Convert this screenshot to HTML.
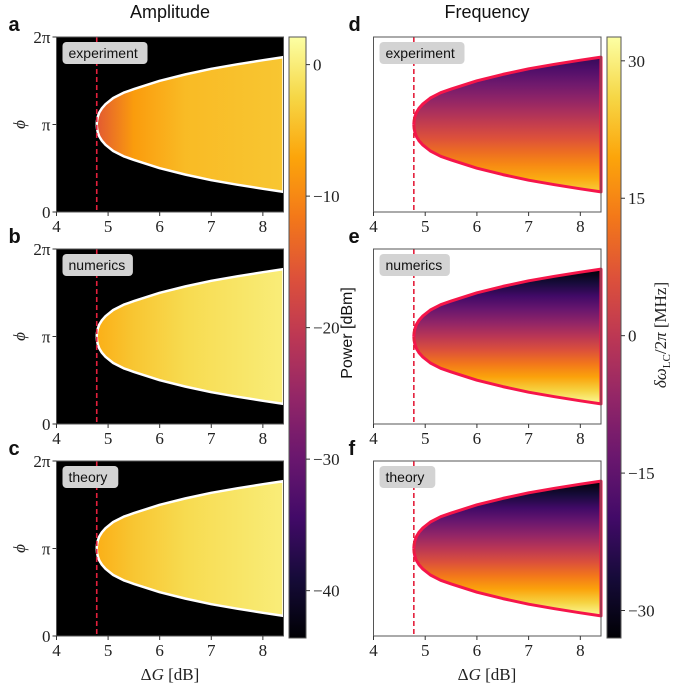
<!DOCTYPE html>
<html><head><meta charset="utf-8">
<style>
html,body{margin:0;padding:0;background:#fff;}
svg{display:block;}
.tk{font-family:"Liberation Serif",serif;font-size:17px;fill:#222;}
.sans{font-family:"Liberation Sans",sans-serif;}
</style></head>
<body>
<svg id="fig" width="685" height="690" viewBox="0 0 685 690" xmlns="http://www.w3.org/2000/svg">
<defs id="defs"></defs>
</svg>
<script>
// ---- data ----
const gainTicks = [4, 5, 6, 7, 8];
const phiTickLabels = ["0", "π", "2π"];
const thresholdGain = 4.78;
const boundaryGain = [4.78, 4.785, 4.8, 4.83, 4.88, 4.95, 5.1, 5.3, 5.5, 6, 6.5, 7, 7.5, 8, 8.4];
const boundaryHalfPhi = [0, 0.14, 0.28, 0.43, 0.58, 0.73, 0.95, 1.14, 1.27, 1.57, 1.80, 2.00, 2.16, 2.31, 2.42];
const ampGainStops = [4.8, 5.5, 6.5, 8.4];
const ampExperiment = [-15, -8, -5, -4];
const ampNumerics = [-6, -4, -2, 0];
const ampTheory = [-6, -4, -2, 0];
const freqEdgeExperiment = [-22, 25];
const freqEdgeNumerics = [-33, 32];
const freqEdgeTheory = [-33, 32];
const ampCbTicks = [0, -10, -20, -30, -40];
const freqCbTicks = [30, 15, 0, -15, -30];
const ampRange = [-43.6, 2.1];
const freqRange = [-33, 32.6];

const NS = "http://www.w3.org/2000/svg";
const svg = document.getElementById('fig');
const defs = document.getElementById('defs');
function mk(tag, attrs, parent){const e=document.createElementNS(NS,tag);for(const k in attrs)e.setAttribute(k,attrs[k]);(parent||svg).appendChild(e);return e;}
const inf=[[0,0,0,4],[.1,22,11,57],[.2,66,10,104],[.3,106,23,110],[.4,147,38,103],[.5,188,55,84],[.6,221,81,58],[.7,243,120,25],[.8,252,165,10],[.9,246,215,70],[1,252,255,164]];
function inferno(t){t=Math.max(0,Math.min(1,t));for(let i=1;i<inf.length;i++){if(t<=inf[i][0]){const a=inf[i-1],b=inf[i],f=(t-a[0])/(b[0]-a[0]);return `rgb(${Math.round(a[1]+f*(b[1]-a[1]))},${Math.round(a[2]+f*(b[2]-a[2]))},${Math.round(a[3]+f*(b[3]-a[3]))})`;}}return 'rgb(252,255,164)';}
let gid=0;

function panel(cfg){
  const {x0,x1,top,h,letter,label,kind}=cfg;
  const xs=g=>x0+(g-4)*(x1-x0)/4.4;
  const ys=p=>top+h-p*h/(2*Math.PI);
  const g=mk('g',{});
  
  
  const bg=mk('rect',{x:x0,y:top,width:x1-x0,height:h,fill:kind==='amp'?'#000':'#fff'},g);
  
  
  let up='',lo='';
  boundaryGain.forEach((gn,i)=>{up+=(i?'L':'M')+xs(gn).toFixed(1)+','+ys(Math.PI+boundaryHalfPhi[i]).toFixed(1)+' ';});
  for(let i=boundaryGain.length-1;i>=0;i--){lo+='L'+xs(boundaryGain[i]).toFixed(1)+','+ys(Math.PI-boundaryHalfPhi[i]).toFixed(1)+' ';}
  const id='gr'+(gid++);
  let grad;
  if(kind==='amp'){
    grad=mk('linearGradient',{id,gradientUnits:'userSpaceOnUse',x1:xs(4.8),y1:0,x2:xs(8.4),y2:0},defs);
    ampGainStops.forEach((gn,i)=>{mk('stop',{offset:((gn-4.8)/3.6).toFixed(3),'stop-color':inferno((cfg.vals[i]-ampRange[0])/(ampRange[1]-ampRange[0]))},grad);});
  } else {
    const hm=boundaryHalfPhi[boundaryHalfPhi.length-1];
    grad=mk('linearGradient',{id,gradientUnits:'userSpaceOnUse',x1:0,y1:ys(Math.PI+hm),x2:0,y2:ys(Math.PI-hm)},defs);
    for(let k=0;k<=10;k++){const v=cfg.vals[0]+(cfg.vals[1]-cfg.vals[0])*k/10;mk('stop',{offset:k/10,'stop-color':inferno((v-freqRange[0])/(freqRange[1]-freqRange[0]))},grad);}
  }
  const fill=mk('path',{d:up+lo+'Z',fill:`url(#${id})`},g);
  
  
  const bc=kind==='amp'?'#fff':'#f5154a';
  const b=mk('path',{d:up+lo,fill:'none',stroke:bc,'stroke-width':kind==='amp'?2.5:3,'stroke-linejoin':'round'},g);
  
  
  const dl=mk('line',{x1:xs(thresholdGain),x2:xs(thresholdGain),y1:top,y2:top+h,stroke:'#e3203c','stroke-width':1.6,'stroke-dasharray':'5,3'},g);
  
  
  const fr=mk('rect',{x:x0,y:top,width:x1-x0,height:h,fill:'none',stroke:'#555','stroke-width':1},g);
  
  
  const tw=label.length*7.3+12;
  const lb=mk('rect',{x:x0+6,y:top+5,width:tw,height:22,rx:4,fill:'#d3d3d3'},g);
  
  
  const lt=mk('text',{x:x0+12,y:top+21,class:'sans','font-size':14,fill:'#111'},g);
  lt.textContent=label;
  
  
  gainTicks.forEach(t=>{
    mk('line',{x1:xs(t),x2:xs(t),y1:top+h,y2:top+h+4,stroke:'#333'},g);
    const tx=mk('text',{x:xs(t),y:top+h+20,class:'tk','text-anchor':'middle'},g);
    tx.textContent=t;
    
    
  });
  if(kind==='amp'){
    phiTickLabels.forEach((l,i)=>{
      const y=ys(i*Math.PI);
      mk('line',{x1:x0-4,x2:x0,y1:y,y2:y,stroke:'#333'},g);
      const tx=mk('text',{x:x0-6,y:y+6,class:'tk','text-anchor':'end'},g);
      tx.textContent=l;
      
      
    });
    const yl=mk('text',{x:0,y:0,class:'tk','font-style':'italic','font-size':24,'text-anchor':'middle',transform:`translate(25,${top+h/2}) rotate(-90)`},g);
    yl.textContent='ϕ';
    
    
  }
  const pl=mk('text',{x:x0-48+(kind==='amp'?0:23),y:top-6,class:'sans','font-size':20,'font-weight':'bold',fill:'#111'},g);
  pl.textContent=letter;
  
  
}
const tops=[37,249,461], H=175;
panel({x0:56.5,x1:283.5,top:tops[0],h:H,letter:'a',label:'experiment',kind:'amp',vals:ampExperiment});
panel({x0:56.5,x1:283.5,top:tops[1],h:H,letter:'b',label:'numerics',kind:'amp',vals:ampNumerics});
panel({x0:56.5,x1:283.5,top:tops[2],h:H,letter:'c',label:'theory',kind:'amp',vals:ampTheory});
panel({x0:373.5,x1:601,top:tops[0],h:H,letter:'d',label:'experiment',kind:'freq',vals:freqEdgeExperiment});
panel({x0:373.5,x1:601,top:tops[1],h:H,letter:'e',label:'numerics',kind:'freq',vals:freqEdgeNumerics});
panel({x0:373.5,x1:601,top:tops[2],h:H,letter:'f',label:'theory',kind:'freq',vals:freqEdgeTheory});

function colorbar(x,w,top,bot,range,ticks,name){
  const id='cb'+(gid++);
  const gr=mk('linearGradient',{id,x1:0,y1:1,x2:0,y2:0},defs);
  for(let k=0;k<=20;k++)mk('stop',{offset:k/20,'stop-color':inferno(k/20)},gr);
  const g=mk('g',{});
  
  
  mk('rect',{x,y:top,width:w,height:bot-top,fill:`url(#${id})`,stroke:'#555','stroke-width':1},g);
  ticks.forEach(t=>{
    const y=bot-(t-range[0])/(range[1]-range[0])*(bot-top);
    mk('line',{x1:x+w,x2:x+w+4,y1:y,y2:y,stroke:'#333'},g);
    const tx=mk('text',{x:x+w+7,y:y+6,class:'tk'},g);
    tx.textContent=t<0?'−'+(-t):String(t);
    
    
  });
}
colorbar(289,17,37,638,ampRange,ampCbTicks,'amplitude-colorbar');
colorbar(607,14,37,638,freqRange,freqCbTicks,'frequency-colorbar');

function txt(s,attrs,name){const t=mk('text',attrs);t.textContent=s;return t;}
txt('Amplitude',{x:170,y:18,class:'sans','font-size':18,'text-anchor':'middle',fill:'#111'},'amplitude-title');
txt('Frequency',{x:487,y:18,class:'sans','font-size':18,'text-anchor':'middle',fill:'#111'},'frequency-title');
txt('ΔG [dB]',{x:170,y:680,class:'tk','font-size':20,'text-anchor':'middle'},'x-axis-title-left').innerHTML='Δ<tspan font-style="italic">G</tspan> [dB]';
txt('ΔG [dB]',{x:487,y:680,class:'tk','font-size':20,'text-anchor':'middle'},'x-axis-title-right').innerHTML='Δ<tspan font-style="italic">G</tspan> [dB]';
txt('Power [dBm]',{x:0,y:0,class:'sans','font-size':16,'text-anchor':'middle',fill:'#111',transform:'translate(352,333) rotate(-90)'},'amplitude-colorbar-title');
txt('δω',{x:0,y:0,class:'tk','font-size':18,'text-anchor':'middle',transform:'translate(666,335) rotate(-90)'},'frequency-colorbar-title').innerHTML='<tspan font-style="italic">δω</tspan><tspan font-size="11" dy="4">LC</tspan><tspan dy="-4">/2</tspan><tspan font-style="italic">π</tspan> [MHz]';
</script>
</body></html>
